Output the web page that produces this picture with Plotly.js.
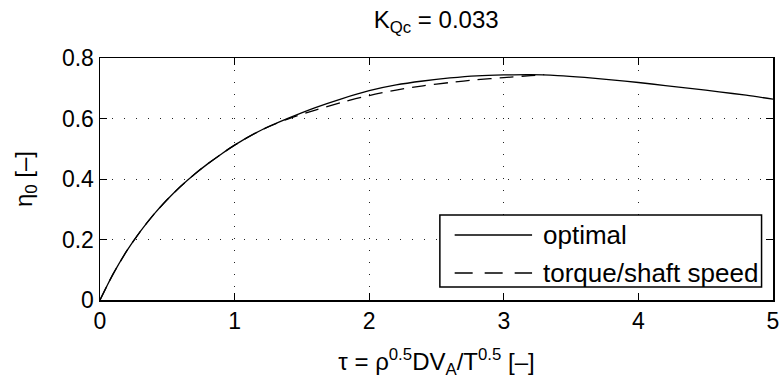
<!DOCTYPE html>
<html>
<head>
<meta charset="utf-8">
<script src="https://cdn.plot.ly/plotly-3.0.1.min.js"></script>
<style>
html,body{margin:0;padding:0;background:#fff;}
#chart{width:781px;height:387px;}
</style>
</head>
<body>
<div id="chart"></div>
<script>
// ---- data ----
const tauOptimal = [0, 0.05, 0.1, 0.2, 0.3, 0.4, 0.5, 0.6, 0.7, 0.8, 0.9, 1.0, 1.2, 1.4, 1.6, 1.8, 2.0, 2.2, 2.4, 2.6, 2.8, 3.0, 3.2, 3.4, 3.6, 3.8, 4.0, 4.2, 4.4, 4.6, 4.8, 5.0];
const etaOptimal = [0.0, 0.045, 0.088, 0.163, 0.227, 0.283, 0.332, 0.376, 0.415, 0.45, 0.482, 0.512, 0.562, 0.601, 0.636, 0.666, 0.692, 0.711, 0.724, 0.734, 0.741, 0.744, 0.745, 0.742, 0.736, 0.728, 0.719, 0.709, 0.699, 0.688, 0.677, 0.664];
const tauTorque = [0, 0.05, 0.1, 0.2, 0.3, 0.4, 0.5, 0.6, 0.7, 0.8, 0.9, 1.0, 1.2, 1.4, 1.6, 1.8, 2.0, 2.2, 2.4, 2.6, 2.8, 3.0, 3.2, 3.3];
const etaTorque = [0.0, 0.045, 0.088, 0.163, 0.227, 0.283, 0.332, 0.376, 0.415, 0.45, 0.482, 0.512, 0.562, 0.599, 0.628, 0.654, 0.676, 0.694, 0.708, 0.719, 0.728, 0.735, 0.742, 0.745];
const seriesNames = ['optimal', 'torque/shaft speed'];
const xTicks = [0, 1, 2, 3, 4, 5];
const yTicks = [0, 0.2, 0.4, 0.6, 0.8];
const yTickText = ['0', '0.2', '0.4', '0.6', '0.8'];

const FONT = 'Liberation Sans, Arial, Helvetica, sans-serif';

const traces = [
  {x: tauOptimal, y: etaOptimal, mode: 'lines', name: seriesNames[0],
   line: {color: '#000', width: 1.3, shape: 'spline', smoothing: 0.8}},
  {x: tauTorque, y: etaTorque, mode: 'lines', name: seriesNames[1],
   line: {color: '#000', width: 1.3, dash: '14px,8px', shape: 'spline', smoothing: 0.8}}
];

// legend box in paper coordinates
const lx0 = 0.505, lx1 = 0.983, ly0 = 0.054, ly1 = 0.351;
const sx0 = 0.527, sx1 = 0.642, tx = 0.656;
const rows = [0.2686, 0.1116];

const layout = {
  width: 781, height: 387,
  margin: {l: 99.5, r: 7.5, t: 58, b: 87},
  paper_bgcolor: '#fff', plot_bgcolor: '#fff',
  showlegend: false,
  font: {family: FONT, size: 23, color: '#000'},
  title: {text: 'K<sub>Qc</sub> = 0.033', x: 0.5585, xanchor: 'center', y: 0.95, yanchor: 'middle',
          font: {family: FONT, size: 24, color: '#000'}},
  xaxis: {
    range: [0, 5], tickvals: xTicks, ticktext: xTicks.map(String),
    ticks: 'inside', ticklen: 7, tickwidth: 1, tickcolor: '#000',
    showline: true, linecolor: '#000', linewidth: 1.5, mirror: 'ticks',
    showgrid: true, gridcolor: '#222', gridwidth: 1, griddash: '1px,11px',
    zeroline: false, tickfont: {size: 23},
    title: {text: 'τ = ρ<sup>0.5</sup>DV<sub>A</sub>/T<sup>0.5</sup> [–]', font: {size: 24}, standoff: 20}
  },
  yaxis: {
    range: [0, 0.8], tickvals: yTicks, ticktext: yTickText,
    ticks: 'inside', ticklen: 7, tickwidth: 1, tickcolor: '#000',
    showline: true, linecolor: '#000', linewidth: 1.5, mirror: 'ticks',
    showgrid: true, gridcolor: '#222', gridwidth: 1, griddash: '1px,11px',
    zeroline: false, tickfont: {size: 23},
    title: {text: 'η<sub>0</sub> [–]', font: {size: 24}, standoff: 22}
  },
  shapes: [
    {type: 'rect', xref: 'paper', yref: 'paper', x0: lx0, x1: lx1, y0: ly0, y1: ly1,
     line: {color: '#000', width: 1.5}, fillcolor: '#fff', layer: 'above'},
    {type: 'line', xref: 'paper', yref: 'paper', x0: sx0, x1: sx1, y0: rows[0], y1: rows[0],
     line: {color: '#000', width: 1.3}, layer: 'above'},
    {type: 'line', xref: 'paper', yref: 'paper', x0: sx0, x1: sx1, y0: rows[1], y1: rows[1],
     line: {color: '#000', width: 1.3, dash: '18px,12px'}, layer: 'above'}
  ],
  annotations: seriesNames.map((n, i) => ({
    text: n, xref: 'paper', yref: 'paper', x: tx, y: rows[i], xanchor: 'left', yanchor: 'middle',
    showarrow: false, font: {family: FONT, size: 26, color: '#000'}
  }))
};

Plotly.newPlot('chart', traces, layout, {displayModeBar: false, staticPlot: true});
</script>
</body>
</html>
